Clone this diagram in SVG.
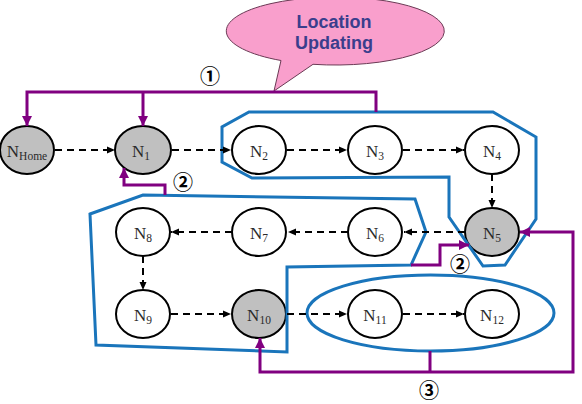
<svg xmlns="http://www.w3.org/2000/svg" width="582" height="404" viewBox="0 0 582 404">
<style>
.nd{stroke:#000;stroke-width:2}
.g{fill:#c0c0c0}
.w{fill:#fff}
.lb{font-family:"Liberation Serif","Times New Roman",serif;font-size:17px;fill:#2a2a2a;text-anchor:middle}
.sb{font-size:11.5px}
.dash{fill:none;stroke:#000;stroke-width:2;stroke-dasharray:7 5;marker-end:url(#ah)}
.pl{fill:none;stroke:#800080;stroke-width:3}
.blue{fill:none;stroke:#1a75bb;stroke-width:3;stroke-linejoin:miter}
.num{font-family:"Noto Sans CJK KR","DejaVu Sans",sans-serif;font-size:20px;font-weight:bold;fill:#000;text-anchor:middle}
.cap{font-family:"Liberation Sans",Arial,sans-serif;font-size:18px;font-weight:bold;fill:#3a3e8c;text-anchor:middle}
</style>
<defs>
<marker id="ah" markerUnits="userSpaceOnUse" markerWidth="9" markerHeight="8" refX="8" refY="4" orient="auto"><path d="M0,0.5 L8,4 L0,7.5 z" fill="#000"/></marker>
<marker id="ph" markerUnits="userSpaceOnUse" markerWidth="12" markerHeight="12" refX="10" refY="6" orient="auto-start-reverse"><path d="M0,1 L10,6 L0,11 z" fill="#800080"/></marker>
</defs>
<rect width="582" height="404" fill="#fff"/>
<g id="callout">
<path d="M281,60.5 L274,91 L313,64.3 A109,34 0 1 0 281,60.5 Z" fill="#f99fcc" stroke="#6b3a55" stroke-width="1"/>
<text class="cap" x="334" y="28">Location</text>
<text class="cap" x="334" y="49">Updating</text>
</g>
<g id="nodes">
<g id="NHome"><ellipse class="nd g" cx="27" cy="150" rx="27" ry="24"/><text class="lb" x="27" y="157">N<tspan class="sb" dy="3">Home</tspan></text></g>
<g id="N1"><ellipse class="nd g" cx="143" cy="150" rx="28" ry="24"/><text class="lb" x="141" y="157">N<tspan class="sb" dy="3">1</tspan></text></g>
<g id="N2"><ellipse class="nd w" cx="259" cy="150" rx="27" ry="24"/><text class="lb" x="259" y="157">N<tspan class="sb" dy="3">2</tspan></text></g>
<g id="N3"><ellipse class="nd w" cx="375" cy="150" rx="27" ry="24"/><text class="lb" x="375" y="157">N<tspan class="sb" dy="3">3</tspan></text></g>
<g id="N4"><ellipse class="nd w" cx="492" cy="150" rx="27" ry="24"/><text class="lb" x="492" y="157">N<tspan class="sb" dy="3">4</tspan></text></g>
<g id="N5"><ellipse class="nd g" cx="492" cy="232" rx="27" ry="24"/><text class="lb" x="492" y="239">N<tspan class="sb" dy="3">5</tspan></text></g>
<g id="N6"><ellipse class="nd w" cx="375" cy="232" rx="27" ry="24"/><text class="lb" x="375" y="239">N<tspan class="sb" dy="3">6</tspan></text></g>
<g id="N7"><ellipse class="nd w" cx="259" cy="232" rx="27" ry="24"/><text class="lb" x="259" y="239">N<tspan class="sb" dy="3">7</tspan></text></g>
<g id="N8"><ellipse class="nd w" cx="143" cy="232" rx="27" ry="24"/><text class="lb" x="143" y="239">N<tspan class="sb" dy="3">8</tspan></text></g>
<g id="N9"><ellipse class="nd w" cx="143" cy="314" rx="27" ry="24"/><text class="lb" x="143" y="321">N<tspan class="sb" dy="3">9</tspan></text></g>
<g id="N10"><ellipse class="nd g" cx="259" cy="314" rx="27" ry="24"/><text class="lb" x="259" y="321">N<tspan class="sb" dy="3">10</tspan></text></g>
<g id="N11"><ellipse class="nd w" cx="375" cy="314" rx="27" ry="24"/><text class="lb" x="375" y="321">N<tspan class="sb" dy="3">11</tspan></text></g>
<g id="N12"><ellipse class="nd w" cx="492" cy="314" rx="27" ry="24"/><text class="lb" x="492" y="321">N<tspan class="sb" dy="3">12</tspan></text></g>
</g>
<g id="regions">
<path class="blue" d="M249,112 L493,112 L536,137 L536,219 L505,265 L483,266 L449,217 L449,177 L252,178 L222,162 L222,127 Z"/>
<path class="blue" d="M90,214 L143,195 L415,199 L426,232 L411,265 L287,267 L287,352 L96,345 Z"/>
<ellipse class="blue" cx="430.5" cy="313" rx="123.5" ry="38"/>
</g>
<g id="connectors">
<path class="dash" d="M55,150 H115"/>
<path class="dash" d="M172,150 H231"/>
<path class="dash" d="M287,150 H347"/>
<path class="dash" d="M403,150 H464"/>
<path class="dash" d="M492,174 V208"/>
<path class="dash" d="M465,232 H404"/>
<path class="dash" d="M348,232 H288"/>
<path class="dash" d="M232,232 H171"/>
<path class="dash" d="M143,256 V290"/>
<path class="dash" d="M171,314 H231"/>
<path class="dash" d="M287,314 H347"/>
<path class="dash" d="M403,314 H464"/>
<path class="pl" d="M376,112 V92 H27 V126" marker-end="url(#ph)"/>
<path class="pl" d="M143,92 V126" marker-end="url(#ph)"/>
<path class="pl" d="M165,195 V185 H124 V168" marker-end="url(#ph)"/>
<path class="pl" d="M411,265 H440 V245 H469" marker-end="url(#ph)"/>
<path class="pl" d="M520,232 H573 V372 H260 V338" marker-start="url(#ph)" marker-end="url(#ph)"/>
<path class="pl" d="M430,351 V372"/>
</g>
<g id="labels">
<text class="num" x="210" y="84">①</text>
<text class="num" x="183" y="190">②</text>
<text class="num" x="460" y="272">②</text>
<text class="num" x="429" y="398">③</text>
</g>
</svg>
